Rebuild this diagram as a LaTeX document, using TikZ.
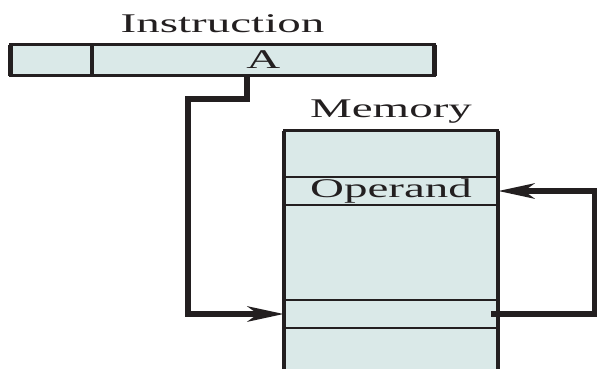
\documentclass[tikz,border=0pt]{standalone}
\usepackage{fontspec}
\setmainfont{Liberation Serif}
\usepackage{graphicx}
\usetikzlibrary{arrows.meta, positioning}

\definecolor{cellfill}{HTML}{DAE9E8}
\definecolor{ink}{HTML}{231F20}
\newcommand{\stretchtext}[1]{\scalebox{1.74}[1]{#1}}

\begin{document}
\begin{tikzpicture}[x=1pt, y=-1pt,
    field/.style={draw=ink, fill=cellfill, line width=3pt, inner sep=0pt, outer sep=0pt, anchor=north west, minimum height=31pt, text=ink, font=\fontsize{27}{30}\selectfont},
    cell/.style={draw=ink, fill=cellfill, line width=2.3pt, inner sep=0pt, outer sep=0pt, minimum width=214pt, text=ink, font=\fontsize{27}{30}\selectfont},
    heading/.style={anchor=base, inner sep=0pt, text=ink, font=\fontsize{27}{30}\selectfont},
    side/.style={draw=ink, line width=4.5pt},
    link/.style={draw=ink, line width=6pt}]
    \clip (0,0) rectangle (597,368);

    % instruction word
    \node (opcode) [field, minimum width=81.5pt] at (10.5,44.5) {};
    \node (addr) [field, minimum width=342.5pt] at (opcode.north east) {\stretchtext{A}};
    \draw[side] (opcode.north west) -- (opcode.south west);
    \draw[side] (addr.north west) -- (addr.south west);
    \draw[side] (addr.north east) -- (addr.south east);
    \node (instrlabel) [heading] at (222.5,32) {\stretchtext{Instruction}};

    % memory
    \node (mem0) [cell, anchor=north west, minimum height=46.5pt] at (284,130.5) {};
    \node (operand) [cell, anchor=north, minimum height=28pt] at (mem0.south) {\stretchtext{Operand}};
    \node (mem2) [cell, anchor=north, minimum height=95pt] at (operand.south) {};
    \node (target) [cell, anchor=north, minimum height=28pt] at (mem2.south) {};
    \node (mem4) [cell, anchor=north, minimum height=60pt] at (target.south) {};
    \draw[side] (mem0.north west) -- (mem4.south west);
    \draw[side] (mem0.north east) -- (mem4.south east);
    \node (memlabel) [heading] at (391,117) {\stretchtext{Memory}};

    % address field points into memory
    \coordinate (drop) at ([xshift=-16pt]addr.south);
    \coordinate (leftbend) at (188,99);
    \draw[link, -{Stealth[length=36pt, width=15pt, inset=10pt]}] (drop) |- (leftbend) |- (target.west);

    % word found there points to the operand
    \draw[link, -{Stealth[length=36pt, width=15pt, inset=10pt]}] ([xshift=-7pt]target.east) -- ++(104,0) |- (operand.east);
\end{tikzpicture}
\end{document}
